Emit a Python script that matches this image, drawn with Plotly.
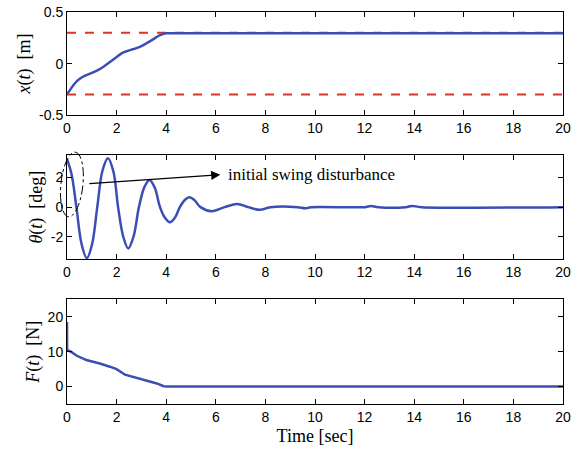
import math
import plotly.graph_objects as go

# ---------------- data ----------------
t_pos = [0, 0.08, 0.18, 0.32, 0.5, 0.75, 1.05, 1.3, 1.5, 1.73, 2.0, 2.2, 2.4, 2.6, 2.8, 3.08, 3.3, 3.5, 3.7, 3.9, 4.0, 6, 10, 20]
x_pos = [-0.29, -0.27, -0.235, -0.19, -0.15, -0.115, -0.085, -0.055, -0.025, 0.015, 0.065, 0.1, 0.12, 0.135, 0.15, 0.18, 0.21, 0.24, 0.27, 0.29, 0.293, 0.293, 0.293, 0.293]

t_lim = [0, 20]
x_upper = [0.3, 0.3]
x_lower = [-0.3, -0.3]

t_ang = [0, 0.18, 0.38, 0.59, 0.8, 1.01, 1.22, 1.43, 1.65, 1.87, 2.06, 2.27, 2.47, 2.68, 2.9, 3.12, 3.33,
         3.54, 3.75, 3.95, 4.15, 4.35, 4.55, 4.75, 4.94, 5.14, 5.38, 5.85, 6.35,
         6.86, 7.3, 7.78, 8.2, 9.3, 9.6, 9.85, 12.0, 12.25, 12.55, 13.65, 13.9, 14.3, 20]
theta = [3.25, 2.25, 0, -2.5, -3.44, -2.5, 0, 2.45, 3.29, 2.4, 0, -2.0, -2.78, -2.0, 0, 1.35, 1.83,
         1.3, 0, -0.72, -1.02, -0.72, 0, 0.48, 0.67, 0.47, 0, -0.27, 0,
         0.22, 0, -0.18, 0, 0, -0.08, 0, 0, 0.08, 0, 0, 0.08, 0, 0]

t_force = [0, 0.005, 0.2, 0.38, 0.78, 1.0, 1.32, 1.73, 2.0, 2.34, 2.6, 2.81, 3.2, 3.4, 3.62, 3.9, 4.0, 20]
force = [18.5, 10.5, 9.8, 8.9, 7.6, 7.1, 6.6, 5.7, 5.0, 3.4, 2.9, 2.6, 1.9, 1.5, 0.9, 0.1, 0, 0]

x_ticks = [0, 2, 4, 6, 8, 10, 12, 14, 16, 18, 20]
y1_ticks = [-0.5, 0, 0.5]
y1_text = ["-0.5", "0", "0.5"]
y2_ticks = [-2, 0, 2]
y2_text = ["-2", "0", "2"]
y3_ticks = [0, 10, 20]
y3_text = ["0", "10", "20"]

# ---------------- layout geometry ----------------
W, H = 579, 453
L, R, T, B = 67.3, 15.7, 11.7, 49.0
PH = H - T - B
PW = W - L - R


def py(p):
    return (H - B - p) / PH


def px(p):
    return (p - L) / PW


BLUE = "rgb(60,78,180)"
RED = "rgb(222,52,36)"
SERIF = "Liberation Serif"
SANS = "Liberation Sans"

fig = go.Figure()
fig.add_trace(go.Scatter(x=t_lim, y=x_upper, mode="lines", line=dict(color=RED, width=2, dash="dash"), xaxis="x", yaxis="y"))
fig.add_trace(go.Scatter(x=t_lim, y=x_lower, mode="lines", line=dict(color=RED, width=2, dash="dash"), xaxis="x", yaxis="y"))
fig.add_trace(go.Scatter(x=t_pos, y=x_pos, mode="lines", line=dict(color=BLUE, width=2.5, shape="spline", smoothing=0.6), xaxis="x", yaxis="y"))
fig.add_trace(go.Scatter(x=t_ang, y=theta, mode="lines", line=dict(color=BLUE, width=2.5, shape="spline", smoothing=1.0), xaxis="x2", yaxis="y2"))
fig.add_trace(go.Scatter(x=t_force, y=force, mode="lines", line=dict(color=BLUE, width=2.5), xaxis="x3", yaxis="y3"))

axis_common = dict(showline=True, linecolor="black", linewidth=1, mirror="ticks", ticks="inside",
                   ticklen=5, tickcolor="black", showgrid=False, zeroline=False,
                   tickfont=dict(family=SANS, size=14, color="black"))
TFONT = dict(family=SERIF, size=18, color="black")

xa = dict(range=[0, 20], tickvals=x_ticks, ticktext=[str(v) for v in x_ticks], **axis_common)
fig.update_layout(
    xaxis=dict(anchor="y", domain=[0, 1], **xa),
    xaxis2=dict(anchor="y2", domain=[0, 1], **xa),
    xaxis3=dict(anchor="y3", domain=[0, 1],
                title=dict(text="Time [sec]", font=TFONT, standoff=5), **xa),
    yaxis=dict(anchor="x", domain=[py(115), py(T)], range=[-0.5, 0.5], tickvals=y1_ticks, ticktext=y1_text,
               title=dict(text="<i>x</i>(<i>t</i>)  [m]", font=TFONT, standoff=3), **axis_common),
    yaxis2=dict(anchor="x2", domain=[py(259), py(155)], range=[-3.5, 3.5], tickvals=y2_ticks, ticktext=y2_text,
                title=dict(text="<i>θ</i>(<i>t</i>)  [deg]", font=TFONT, standoff=3), **axis_common),
    yaxis3=dict(anchor="x3", domain=[0, py(299.3)], range=[-5, 25], tickvals=y3_ticks, ticktext=y3_text,
                title=dict(text="<i>F</i>(<i>t</i>)  [N]", font=TFONT, standoff=3), **axis_common),
    width=W, height=H,
    margin=dict(l=L, r=R, t=T, b=B, autoexpand=False),
    paper_bgcolor="white", plot_bgcolor="white",
    showlegend=False,
)

# arrow + label
fig.add_annotation(x=6.18, y=2.18, ax=0.84, ay=1.58, xref="x2", yref="y2", axref="x2", ayref="y2",
                   text="", showarrow=True, arrowhead=2, arrowsize=1.4, arrowwidth=1.3, arrowcolor="black")
fig.add_annotation(x=6.43, y=2.18, xref="x2", yref="y2", text="initial swing disturbance", showarrow=False,
                   xanchor="left", yanchor="middle", font=dict(family=SERIF, size=17, color="black"))

# dash-dot tilted ellipse (pixel geometry -> paper coordinates)
cx, cy, a, b, tilt = 72.2, 184.3, 32.5, 11.0, math.radians(6)
u = (math.sin(tilt), -math.cos(tilt))
v = (math.cos(tilt), math.sin(tilt))
k = 0.5523


def pt(ca, cb):
    X = cx + ca * a * u[0] + cb * b * v[0]
    Y = cy + ca * a * u[1] + cb * b * v[1]
    return f"{px(X):.5f},{py(Y):.5f}"


path = "M" + pt(1, 0)
path += " C" + pt(1, k) + " " + pt(k, 1) + " " + pt(0, 1)
path += " C" + pt(-k, 1) + " " + pt(-1, k) + " " + pt(-1, 0)
path += " C" + pt(-1, -k) + " " + pt(-k, -1) + " " + pt(0, -1)
path += " C" + pt(k, -1) + " " + pt(1, -k) + " " + pt(1, 0) + " Z"
fig.add_shape(type="path", path=path, xref="paper", yref="paper",
              line=dict(color="black", width=1, dash="dashdot"))

fig.write_html("out.html", config={"displayModeBar": False},
               post_script="document.body.style.margin='0px';")
